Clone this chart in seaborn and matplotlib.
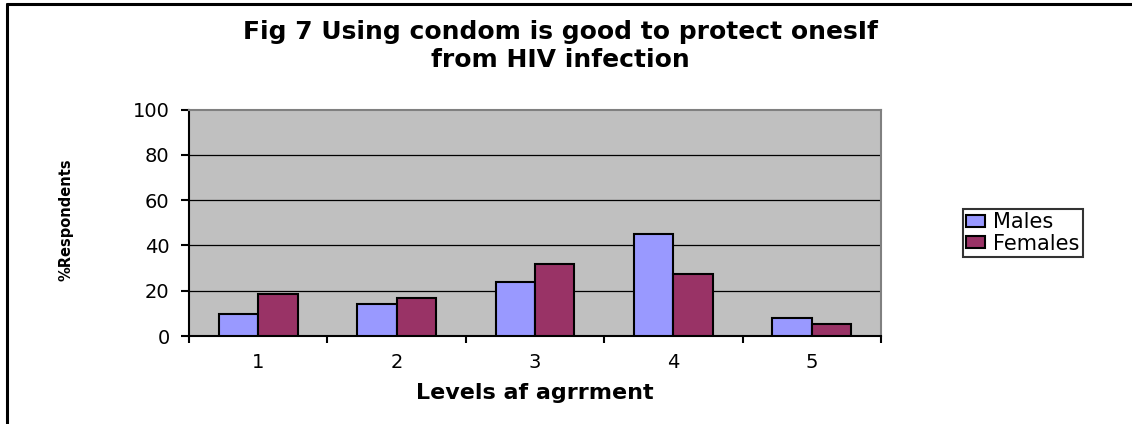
import matplotlib
matplotlib.use("Agg")
import matplotlib.pyplot as plt
from matplotlib.lines import Line2D
from matplotlib.ticker import FixedLocator
import seaborn as sns
import pandas as pd

categories = ["1", "2", "3", "4", "5"]
males = [9.7, 14.1, 23.8, 45.2, 8.1]
females = [18.5, 16.8, 31.9, 27.5, 5.4]
series_names = ["Males", "Females"]
yticks = [0, 20, 40, 60, 80, 100]

title = "Fig 7 Using condom is good to protect onesIf\nfrom HIV infection"
xlabel = "Levels af agrrment"
ylabel = "%Respondents"

df = pd.DataFrame({
    "level": categories * 2,
    "value": males + females,
    "series": [series_names[0]] * len(categories) + [series_names[1]] * len(categories),
})

sns.set_style("white")
plt.rcParams["font.family"] = ["DejaVu Sans"]
plt.rcParams["text.color"] = "black"
plt.rcParams["xtick.color"] = "black"
plt.rcParams["ytick.color"] = "black"
plt.rcParams["axes.labelcolor"] = "black"

fig = plt.figure(figsize=(11.32, 4.24), dpi=100)
ax = fig.add_axes([189 / 1132, 1 - 336 / 424, (881 - 189) / 1132, (336 - 109.5) / 424])

palette = {"Males": "#9999FF", "Females": "#993366"}
sns.barplot(data=df, x="level", y="value", hue="series", order=categories,
            hue_order=series_names, palette=palette, width=0.57,
            edgecolor="black", linewidth=1.5, saturation=1, ax=ax, zorder=3)

ax.set_facecolor("#C0C0C0")
ax.set_ylim(0, 100)
ax.set_xlim(-0.5, len(categories) - 0.5)
ax.set_yticks(yticks)
ax.set_yticklabels([str(t) for t in yticks], fontsize=14)
for t in yticks[1:-1]:
    ax.axhline(t, color="black", lw=0.9, zorder=1)

ax.tick_params(axis="x", which="major", length=0, pad=12, labelsize=14)
ax.xaxis.set_minor_locator(FixedLocator([i - 0.5 for i in range(len(categories) + 1)]))
ax.tick_params(axis="x", which="minor", length=5, width=1.5, direction="out", color="black", bottom=True)
ax.tick_params(axis="y", which="major", length=6, width=1.5, direction="out", color="black", left=True, pad=8)

for side in ["left", "bottom"]:
    ax.spines[side].set_color("black")
    ax.spines[side].set_linewidth(1.5)
for side in ["top", "right"]:
    ax.spines[side].set_visible(True)
    ax.spines[side].set_color("#808080")
    ax.spines[side].set_linewidth(1.5)

ax.set_xlabel(xlabel, fontsize=16, fontweight="bold", labelpad=8)
ax.set_ylabel("")
fig.text(66 / 1132, 1 - 220 / 424, ylabel, rotation=90, fontsize=10.5,
         fontweight="bold", ha="center", va="center")

fig.text(560 / 1132, 1 - 46 / 424, title, ha="center", va="center",
         fontsize=18, fontweight="bold", linespacing=1.2)

leg = ax.legend(loc="center left", bbox_to_anchor=(963 / 1132, 1 - 233 / 424),
                bbox_transform=fig.transFigure, fontsize=15, frameon=True,
                fancybox=False, edgecolor="black", handlelength=0.9,
                handleheight=0.55, handletextpad=0.4, borderpad=0.15,
                labelspacing=0.05, borderaxespad=0)
leg.get_frame().set_linewidth(1.5)
leg.get_frame().set_edgecolor("black")
for h in leg.legend_handles:
    h.set_edgecolor("black")
    h.set_linewidth(1.5)

fig.add_artist(Line2D([6.5 / 1132, 6.5 / 1132], [0, 1 - 3.5 / 424], color="black", lw=2.2,
                      transform=fig.transFigure))
fig.add_artist(Line2D([6.5 / 1132, 1], [1 - 3.5 / 424, 1 - 3.5 / 424], color="black", lw=2.2,
                      transform=fig.transFigure))

fig.savefig("out.png", dpi=100)
